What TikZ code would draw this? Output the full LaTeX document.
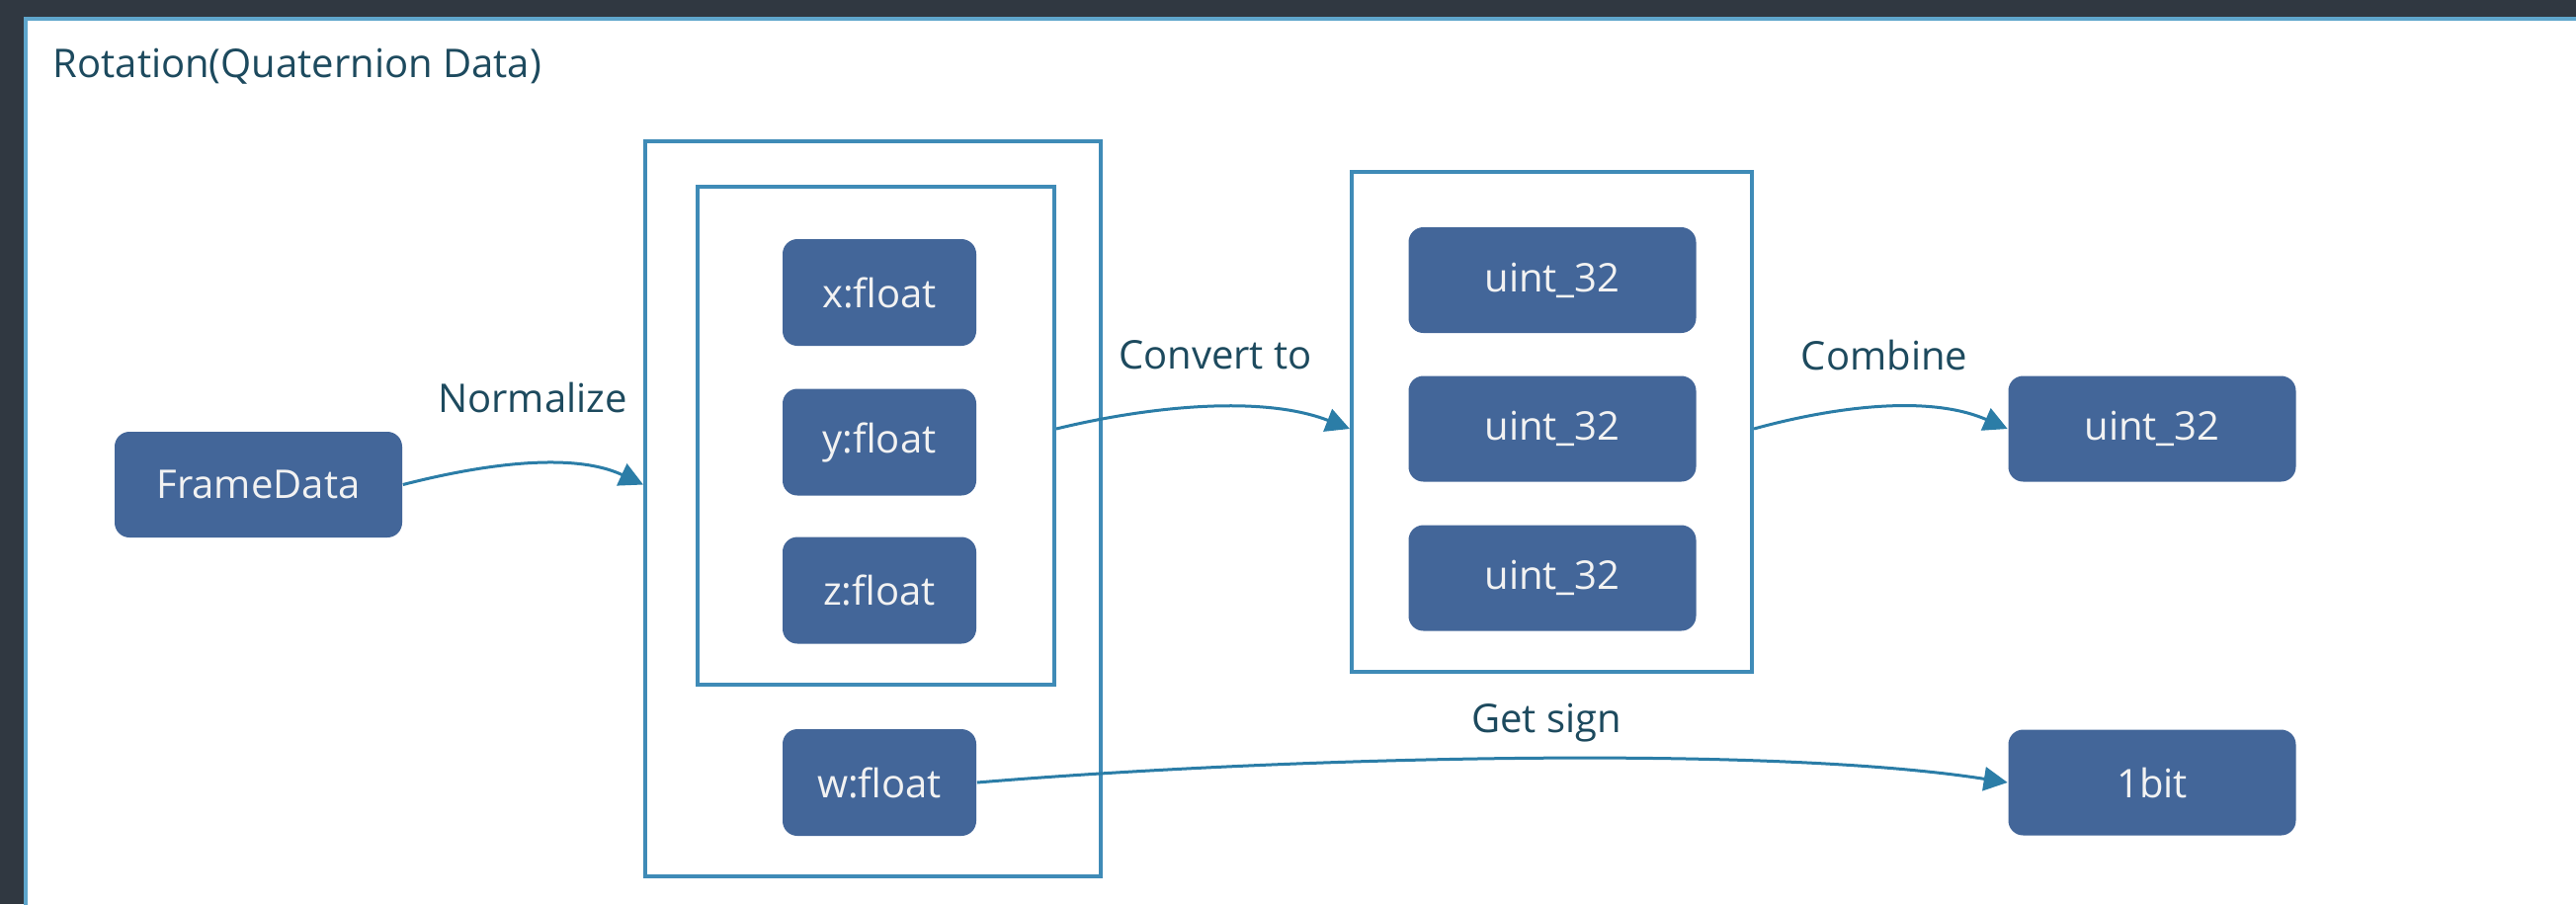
\documentclass[tikz,border=0pt]{standalone}
\usepackage{fontspec}
\setmainfont{Open Sans}
\usetikzlibrary{arrows.meta}

\definecolor{backdrop}{HTML}{303841}
\definecolor{panelrule}{HTML}{5FA6CC}
\definecolor{grouprule}{HTML}{3F8BB7}
\definecolor{boxfill}{HTML}{436699}
\definecolor{flowline}{HTML}{2B7DA7}
\definecolor{labeltext}{HTML}{1D4A5E}

\begin{document}
\begin{tikzpicture}[x=0.25pt,y=-0.25pt,
  txt/.style={font=\fontsize{10}{12}\selectfont},
  databox/.style={txt, rounded corners=3.75pt, fill=boxfill, text=white!95!black,
    inner sep=0pt, minimum width=49pt, minimum height=27pt},
  widebox/.style={databox, minimum width=72.75pt, minimum height=26.75pt},
  groupbox/.style={draw=grouprule, line width=1pt, inner sep=0pt},
  flowlabel/.style={txt, text=labeltext, inner sep=0pt},
  flow/.style={draw=flowline, line width=0.75pt, -{Triangle[length=6pt,width=6pt]}}]

% canvas and panel
\useasboundingbox (0,0) rectangle (2607,915);
\fill[backdrop] (0,0) rectangle (2607,915);
\fill[white] (26,19) rectangle (2640,940);
\draw[panelrule, line width=1pt] (26,940) -- (26,19) -- (2640,19);

\node[flowlabel, anchor=west] (title) at (53,67) {Rotation(Quaternion Data)};

% source
\node[widebox] (fd) at (261.5,490.5) {FrameData};

% normalized quaternion components
\node[groupbox, minimum width=115.25pt, minimum height=186pt] (outer) at (883.5,515) {};
\node[groupbox, minimum width=90.25pt, minimum height=126pt] (inner) at (886.5,441) {};
\node[databox] (xf) at (890,296) {x:float};
\node[databox] (yf) at (890,447.5) {y:float};
\node[databox] (zf) at (890,597.5) {z:float};
\node[databox] (wf) at (890,792) {w:float};

% converted integers
\node[groupbox, minimum width=101.25pt, minimum height=126.5pt] (ugroup) at (1570.5,427) {};
\node[widebox] (u1) at (1571,283.5) {uint\_32};
\node[widebox] (u2) at (1571,434) {uint\_32};
\node[widebox] (u3) at (1571,585) {uint\_32};

% results
\node[widebox] (ur) at (2178,434) {uint\_32};
\node[widebox] (bit) at (2178,792) {1bit};

% labels
\node[flowlabel] (lnorm) at (539,402) {Normalize};
\node[flowlabel] (lconv) at (1230,359) {Convert to};
\node[flowlabel] (lcomb) at (1907,359) {Combine};
\node[flowlabel] (lsign) at (1565,732) {Get sign};

% connectors
\draw[flow] (fd.east) .. controls +(70,-18) and +(-75,-35) .. (outer.west |- fd.east);
\draw[flow] (inner.east |- u2.west) .. controls +(90,-22) and +(-90,-35) .. (ugroup.west |- u2.west);
\draw[flow] (ugroup.east |- u2.east) .. controls +(80,-22) and +(-80,-35) .. (ur.west);
\draw[flow] (wf.east) .. controls +(300,-25) and +(-250,-39) .. (bit.west);
\end{tikzpicture}
\end{document}
